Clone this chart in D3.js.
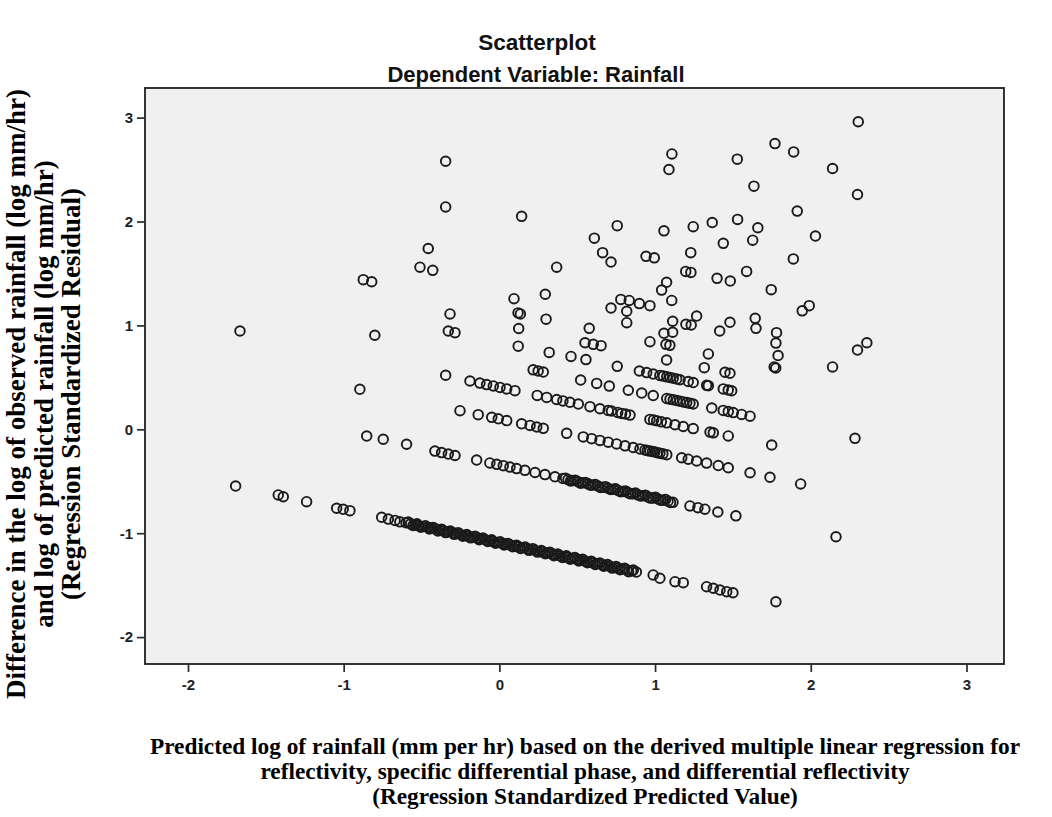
<!DOCTYPE html>
<html>
<head>
<meta charset="utf-8">
<script src="https://cdn.jsdelivr.net/npm/d3@7"></script>
<style>
  body { margin: 0; background: #ffffff; }
  svg { display: block; }
</style>
</head>
<body>
<svg id="chart" width="1052" height="817"></svg>
<script>
// Tick values for both axes
const xTicks = [-2, -1, 0, 1, 2, 3];
const yTicks = [-2, -1, 0, 1, 2, 3];

// Standardized predicted value (x) vs standardized residual (y), grouped by the
// diagonal bands produced by the discrete observed rainfall values.
const bandLowest = [
  [-1.694,-0.546],[-1.420,-0.632],[-1.388,-0.649],[-1.238,-0.697],[-1.045,-0.760],[-1.003,-0.770],
  [-0.960,-0.783],[-0.756,-0.847],[-0.713,-0.864],[-0.670,-0.877],[-0.639,-0.891],
  [-0.60,-0.900],[-0.57,-0.910],[-0.54,-0.920],[-0.52,-0.926],[-0.49,-0.935],[-0.46,-0.945],
  [-0.44,-0.950],[-0.41,-0.960],[-0.38,-0.970],[-0.36,-0.977],[-0.33,-0.986],[-0.30,-0.996],
  [-0.28,-1.002],[-0.25,-1.012],[-0.22,-1.022],[-0.20,-1.028],[-0.17,-1.038],[-0.14,-1.047],
  [-0.12,-1.054],[-0.09,-1.063],[-0.06,-1.073],[-0.04,-1.079],[-0.01,-1.089],[0.02,-1.098],
  [0.04,-1.105],[0.07,-1.114],[0.10,-1.124],[0.12,-1.130],[0.15,-1.140],[0.18,-1.150],
  [0.20,-1.156],[0.23,-1.166],[0.26,-1.175],[0.28,-1.182],[0.31,-1.191],[0.34,-1.201],
  [0.36,-1.207],[0.39,-1.217],[0.42,-1.226],[0.44,-1.233],[0.47,-1.242],[0.50,-1.252],
  [0.52,-1.258],[0.55,-1.268],[0.58,-1.278],[0.60,-1.284],[0.63,-1.294],[0.66,-1.303],
  [0.68,-1.310],[0.71,-1.319],[0.74,-1.329],[0.76,-1.335],[0.79,-1.345],[0.82,-1.354],
  [0.85,-1.364],[0.88,-1.374],[0.988,-1.402],[1.031,-1.434],[1.128,-1.467],[1.181,-1.476],
  [1.331,-1.515],[1.374,-1.530],[1.417,-1.547],[1.460,-1.563],[1.500,-1.573]
];

// Overlapping cases inside the densest stretch of the lowest band
const bandLowestDense = [
  [-0.585,-0.893],[-0.555,-0.926],[-0.530,-0.910],[-0.505,-0.942],[-0.475,-0.928],[-0.450,-0.960],
  [-0.425,-0.944],[-0.395,-0.978],[-0.370,-0.962],[-0.345,-0.994],[-0.315,-0.979],[-0.290,-1.011],
  [-0.265,-0.995],[-0.235,-1.029],[-0.210,-1.013],[-0.185,-1.045],[-0.155,-1.030],[-0.130,-1.062],
  [-0.105,-1.046],[-0.075,-1.080],[-0.050,-1.064],[-0.025,-1.096],[0.005,-1.082],[0.030,-1.114],
  [0.055,-1.098],[0.085,-1.131],[0.110,-1.115],[0.135,-1.147],[0.165,-1.133],[0.190,-1.165],
  [0.215,-1.149],[0.245,-1.182],[0.270,-1.166],[0.295,-1.198],[0.325,-1.184],[0.350,-1.216],
  [0.375,-1.200],[0.405,-1.234],[0.430,-1.218],[0.455,-1.250],[0.485,-1.235],[0.510,-1.267],
  [0.535,-1.251],[0.565,-1.285],[0.590,-1.269],[0.615,-1.301],[0.645,-1.286],[0.670,-1.318],
  [0.695,-1.302],[0.725,-1.336],[0.750,-1.320],[0.775,-1.352],[0.805,-1.338],[0.830,-1.370],
  [0.860,-1.355]
];

const bandSecond = [
  [-0.852,-0.065],[-0.746,-0.096],[-0.596,-0.144],[-0.414,-0.210],[-0.371,-0.224],[-0.328,-0.238],
  [-0.285,-0.252],[-0.146,-0.296],[-0.061,-0.324],[-0.017,-0.337],[0.025,-0.350],[0.068,-0.364],
  [0.111,-0.378],[0.164,-0.395],[0.229,-0.416],[0.293,-0.436],[0.357,-0.457],[0.408,-0.473],
  [0.441,-0.484],[0.473,-0.494],[0.505,-0.504],[0.537,-0.515],[0.569,-0.525],[0.601,-0.536],
  [0.633,-0.546],[0.666,-0.557],[0.698,-0.567],[0.730,-0.578],[0.762,-0.588],[0.794,-0.599],
  [0.826,-0.609],[0.858,-0.620],[0.890,-0.631],[0.922,-0.640],[0.954,-0.651],[0.986,-0.662],
  [1.019,-0.671],[1.051,-0.682],[1.083,-0.693],[1.115,-0.703],[1.224,-0.738],[1.275,-0.754],
  [1.320,-0.769],[1.403,-0.796],[1.519,-0.833]
];

const bandSecondDense = [
  [0.425,-0.470],[0.457,-0.498],[0.489,-0.490],[0.521,-0.519],[0.553,-0.511],[0.585,-0.539],
  [0.617,-0.531],[0.649,-0.560],[0.682,-0.552],[0.714,-0.580],[0.746,-0.573],[0.778,-0.601],
  [0.810,-0.593],[0.842,-0.621],[0.874,-0.614],[0.906,-0.642],[0.938,-0.634],[0.970,-0.662],
  [1.003,-0.655],[1.035,-0.683],[1.067,-0.675],[1.099,-0.704]
];

const bandThird = [
  [-0.253,0.179],[-0.136,0.141],[-0.049,0.115],[-0.007,0.101],[0.047,0.084],[0.143,0.053],
  [0.197,0.037],[0.240,0.022],[0.282,0.009],[0.432,-0.039],[0.539,-0.073],[0.593,-0.090],
  [0.646,-0.107],[0.699,-0.124],[0.753,-0.141],[0.807,-0.159],[0.860,-0.175],[0.903,-0.189],
  [0.935,-0.199],[0.950,-0.204],[0.967,-0.210],[0.983,-0.214],[0.999,-0.219],[1.015,-0.225],
  [1.031,-0.230],[1.050,-0.236],[1.075,-0.244],[1.171,-0.274],
  [1.213,-0.288],[1.267,-0.305],[1.331,-0.325],[1.406,-0.349],[1.470,-0.370]
];

const bandFourth = [
  [-0.189,0.465],[-0.125,0.445],[-0.082,0.430],[-0.039,0.417],[0.004,0.403],[0.047,0.389],
  [0.100,0.372],[0.243,0.326],[0.304,0.307],[0.368,0.287],[0.408,0.273],[0.453,0.260],
  [0.507,0.243],[0.582,0.218],[0.646,0.198],[0.699,0.181],[0.720,0.176],[0.760,0.162],
  [0.785,0.153],[0.810,0.147],[0.839,0.137],[0.967,0.095],[0.990,0.090],[1.010,0.082],
  [1.040,0.072],[1.075,0.062],[1.128,0.044],[1.181,0.027],[1.245,0.007],
  [1.353,-0.027],[1.374,-0.034],[1.470,-0.064]
];

const bandFifth = [
  [0.217,0.572],[0.249,0.561],[0.282,0.551],[0.522,0.474],[0.625,0.442],[0.706,0.416],
  [0.828,0.376],[0.914,0.349],[0.988,0.325],[1.075,0.297],[1.096,0.290],[1.117,0.284],
  [1.139,0.277],[1.160,0.270],[1.181,0.263],[1.203,0.257],[1.224,0.250],[1.245,0.243],
  [1.364,0.205],[1.438,0.182],[1.470,0.171],[1.502,0.161],[1.556,0.143],[1.610,0.126]
];

const bandSixth = [
  [0.460,0.701],[0.556,0.671],[0.757,0.606],[0.899,0.561],[0.946,0.546],[0.988,0.532],
  [1.031,0.519],[1.053,0.512],[1.075,0.505],[1.096,0.498],[1.117,0.491],[1.139,0.484],
  [1.160,0.477],[1.213,0.460],[1.245,0.450],[1.331,0.423],[1.342,0.420],[1.438,0.389],
  [1.470,0.378],[1.492,0.371]
];

const scattered = [
  [-1.666,0.946],[-0.345,2.580],[-0.345,2.140],[0.143,2.050],[-0.457,1.740],[-0.510,1.560],
  [-0.428,1.530],[0.368,1.560],[-0.874,1.440],[-0.820,1.420],[0.295,1.300],[0.094,1.257],
  [-0.317,1.110],[0.120,1.120],[0.135,1.110],[0.300,1.060],[0.124,0.970],[-0.328,0.946],
  [-0.285,0.930],[-0.800,0.905],[0.121,0.800],[0.320,0.740],[-0.345,0.520],[-0.896,0.385],
  [2.305,2.960],[1.108,2.650],[1.089,2.500],[1.528,2.600],[1.770,2.750],[1.890,2.670],
  [2.140,2.510],[1.635,2.340],[2.300,2.260],[1.913,2.100],[0.757,1.960],[0.610,1.840],
  [1.057,1.910],[1.245,1.950],[1.367,1.990],[1.530,2.020],[1.660,1.940],[1.627,1.820],
  [1.438,1.790],[2.030,1.860],[0.663,1.700],[0.717,1.610],[0.942,1.665],[0.995,1.650],
  [1.229,1.700],[1.888,1.640],[1.197,1.520],[1.230,1.510],[1.588,1.520],[1.398,1.453],
  [1.483,1.427],[1.074,1.415],[1.042,1.340],[1.746,1.344],[1.107,1.240],[0.717,1.167],
  [0.780,1.250],[0.834,1.240],[0.899,1.210],[0.967,1.190],[0.818,1.136],[0.818,1.026],
  [1.113,1.040],[1.267,1.090],[1.198,1.010],[1.232,1.004],[1.481,1.030],[1.415,0.946],
  [1.643,1.068],[1.648,0.972],[1.945,1.140],[1.990,1.190],[1.780,0.930],[1.776,0.830],
  [1.790,0.710],[1.765,0.600],[1.775,0.590],[2.140,0.600],[2.300,0.763],[2.360,0.833],
  [0.577,0.972],[0.550,0.833],[0.603,0.818],[0.653,0.805],[0.967,0.843],[1.057,0.924],
  [1.113,0.934],[1.070,0.818],[1.095,0.808],[1.074,0.667],[1.342,0.725],[1.316,0.593],
  [1.449,0.549],[1.481,0.539],[2.284,-0.087],[2.162,-1.034],[1.749,-0.151],[1.610,-0.418],
  [1.738,-0.462],[1.935,-0.526],[1.776,-1.660]
];

const titleText = "Scatterplot";
const subtitleText = "Dependent Variable: Rainfall";
const yTitleLines = [
  "Difference in the log of observed rainfall (log mm/hr)",
  "and log of predicted rainfall (log mm/hr)",
  "(Regression Standardized Residual)"
];
const xTitleLines = [
  "Predicted log of rainfall (mm per hr) based on the derived multiple linear regression for",
  "reflectivity, specific differential phase, and differential reflectivity",
  "(Regression Standardized Predicted Value)"
];

const points = [].concat(bandLowest, bandLowestDense, bandSecond, bandSecondDense, bandThird,
  bandFourth, bandFifth, bandSixth, scattered);

const svg = d3.select("#chart");
const frame = { left: 145, right: 1004, top: 88, bottom: 664 };

const x = d3.scaleLinear().domain([-2.276, 3.241]).range([frame.left, frame.right]);
const y = d3.scaleLinear().domain([-2.259, 3.285]).range([frame.bottom, frame.top]);

const sansBold = "'Liberation Sans',Arial,Helvetica,sans-serif";
const serif = "'Liberation Serif','Times New Roman',Times,serif";

// Plot area
svg.append("rect")
  .attr("x", frame.left).attr("y", frame.top)
  .attr("width", frame.right - frame.left).attr("height", frame.bottom - frame.top)
  .attr("fill", "#f0f0f0").attr("stroke", "#2a2a2a").attr("stroke-width", 1.9);

// Axes
const xAxis = svg.append("g")
  .attr("transform", `translate(0,${frame.bottom})`)
  .call(d3.axisBottom(x).tickValues(xTicks).tickSize(8).tickPadding(7).tickFormat(d => String(d)));
const yAxis = svg.append("g")
  .attr("transform", `translate(${frame.left},0)`)
  .call(d3.axisLeft(y).tickValues(yTicks).tickSize(8).tickPadding(4).tickFormat(d => String(d)));

[xAxis, yAxis].forEach(g => {
  g.select(".domain").remove();
  g.selectAll(".tick line").attr("stroke", "#2a2a2a").attr("stroke-width", 1.7);
  g.selectAll(".tick text")
    .attr("fill", "#222")
    .style("font-family", sansBold)
    .style("font-weight", "bold")
    .style("font-size", "15px");
});

// Points
svg.append("g")
  .selectAll("circle")
  .data(points)
  .join("circle")
  .attr("cx", d => x(d[0]))
  .attr("cy", d => y(d[1]))
  .attr("r", 4.8)
  .attr("fill", "none")
  .attr("stroke", "#1a1a1a")
  .attr("stroke-width", 1.9);

// Titles
svg.append("text")
  .attr("x", 537).attr("y", 50)
  .attr("text-anchor", "middle")
  .style("font-family", sansBold).style("font-weight", "bold").style("font-size", "22.5px")
  .attr("fill", "#111")
  .text(titleText);
svg.append("text")
  .attr("x", 536).attr("y", 82)
  .attr("text-anchor", "middle")
  .style("font-family", sansBold).style("font-weight", "bold").style("font-size", "22px")
  .attr("fill", "#111")
  .text(subtitleText);

// Y axis title
const yTitle = svg.append("g").attr("transform", "translate(0,394) rotate(-90)");
yTitle.selectAll("text")
  .data(yTitleLines)
  .join("text")
  .attr("x", 0)
  .attr("y", (d, i) => 25 + i * 27.5)
  .attr("text-anchor", "middle")
  .style("font-family", serif).style("font-weight", "bold").style("font-size", "27px")
  .attr("fill", "#000")
  .text(d => d);

// X axis title
svg.append("g").selectAll("text")
  .data(xTitleLines)
  .join("text")
  .attr("x", 585)
  .attr("y", (d, i) => 754 + i * 25)
  .attr("text-anchor", "middle")
  .style("font-family", serif).style("font-weight", "bold").style("font-size", "23.3px")
  .attr("fill", "#000")
  .text(d => d);
</script>
</body>
</html>
